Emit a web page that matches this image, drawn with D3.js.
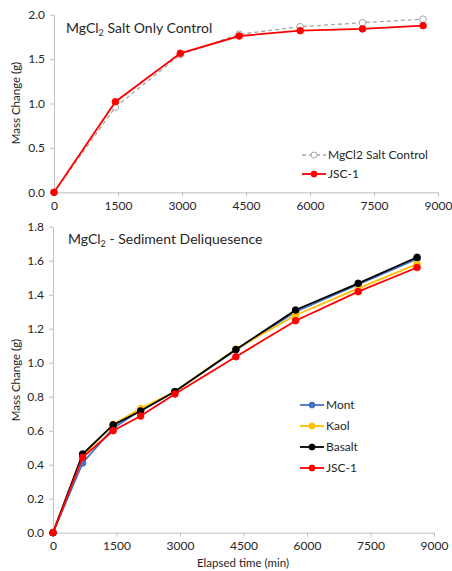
<!DOCTYPE html>
<html>
<head>
<meta charset="utf-8">
<script src="https://cdn.jsdelivr.net/npm/d3@7"></script>
<style>
  body { margin: 0; background: #fff; }
  text { font-family: Lato, "Open Sans", sans-serif; fill: #262626; }
</style>
</head>
<body>
<script>
// top panel: salt only
const saltTime = [0, 1440, 2960, 4340, 5770, 7230, 8650];
const saltControl = [0, 0.96, 1.55, 1.78, 1.865, 1.91, 1.95];
const saltJsc = [0, 1.02, 1.565, 1.76, 1.82, 1.84, 1.876];

// bottom panel: sediment deliquescence
const sedTime = [0, 700, 1420, 2070, 2880, 4320, 5730, 7210, 8600];
const mont   = [0, 0.41, 0.615, 0.72, 0.83, 1.075, 1.30, 1.46, 1.61];
const kaol   = [0, 0.45, 0.637, 0.73, 0.83, 1.08, 1.279, 1.437, 1.58];
const basalt = [0, 0.463, 0.634, 0.716, 0.83, 1.077, 1.31, 1.467, 1.62];
const jsc    = [0, 0.443, 0.60, 0.686, 0.816, 1.035, 1.247, 1.418, 1.56];

const xTicks = [0, 1500, 3000, 4500, 6000, 7500, 9000];

const svg = d3.select("body").append("svg")
  .attr("width", 452).attr("height", 571);

function axes(g, x, y, yTicks, fmt) {
  const xa = g.append("g")
    .attr("transform", `translate(0,${y.range()[0]})`)
    .call(d3.axisBottom(x).tickValues(xTicks).tickFormat(d3.format("d"))
      .tickSize(4).tickSizeOuter(0).tickPadding(5));
  const ya = g.append("g")
    .attr("transform", `translate(${x.range()[0]},0)`)
    .call(d3.axisLeft(y).tickValues(yTicks).tickFormat(fmt).tickSize(4).tickSizeOuter(0).tickPadding(5));
  [xa, ya].forEach(a => {
    a.selectAll("path, line").attr("stroke", "#bfbfbf");
    a.selectAll("text").attr("font-size", 12).attr("fill", "#262626")
      .attr("font-family", "Lato, sans-serif");
  });
}

function series(g, x, y, t, vals, color, opts = {}) {
  const pts = t.map((d, i) => [d, vals[i]]);
  g.append("path").datum(pts)
    .attr("fill", "none").attr("stroke", color)
    .attr("stroke-width", opts.width || 1.8)
    .attr("stroke-dasharray", opts.dash || null)
    .attr("d", d3.line().x(d => x(d[0])).y(d => y(d[1])));
  g.selectAll(null).data(pts).enter().append("circle")
    .attr("cx", d => x(d[0])).attr("cy", d => y(d[1]))
    .attr("r", opts.r || 3.3)
    .attr("fill", opts.open ? "#fff" : color)
    .attr("stroke", color).attr("stroke-width", 1);
}

function legendItem(g, lx, ly, label, color, opts = {}) {
  g.append("line").attr("x1", lx).attr("x2", lx + 24).attr("y1", ly).attr("y2", ly)
    .attr("stroke", color).attr("stroke-width", opts.width || 1.8)
    .attr("stroke-dasharray", opts.dash || null);
  g.append("circle").attr("cx", lx + 12).attr("cy", ly).attr("r", opts.r || 3)
    .attr("fill", opts.open ? "#fff" : color).attr("stroke", color);
  g.append("text").attr("x", lx + 26).attr("y", ly).attr("dy", "0.35em")
    .attr("font-size", 12).text(label);
}

// ---- top chart
const gTop = svg.append("g");
const x1 = d3.scaleLinear().domain([0, 9000]).range([54, 438]);
const y1 = d3.scaleLinear().domain([0, 2]).range([192.3, 14.7]);
axes(gTop, x1, y1, [0, 0.5, 1, 1.5, 2], d3.format(".1f"));
series(gTop, x1, y1, saltTime, saltControl, "#a6a6a6", { dash: "4,3", open: true, width: 1.3 });
series(gTop, x1, y1, saltTime, saltJsc, "#ff0000");

const t1 = gTop.append("text").attr("x", 66).attr("y", 33).attr("font-size", 14);
t1.append("tspan").text("MgCl");
t1.append("tspan").attr("font-size", 9).attr("dy", 3).text("2");
t1.append("tspan").attr("dy", -3).text(" Salt Only Control");

gTop.append("text").attr("transform", "translate(20,103) rotate(-90)")
  .attr("text-anchor", "middle").attr("font-size", 11.5).text("Mass Change (g)");

legendItem(gTop, 302, 155, "MgCl2 Salt Control", "#a6a6a6", { dash: "4,3", open: true, width: 1.3 });
legendItem(gTop, 302, 174, "JSC-1", "#ff0000");

// ---- bottom chart
const gBot = svg.append("g");
const x2 = d3.scaleLinear().domain([0, 9000]).range([53, 434]);
const y2 = d3.scaleLinear().domain([0, 1.8]).range([532.7, 226.7]);
axes(gBot, x2, y2, [0, 0.2, 0.4, 0.6, 0.8, 1.0, 1.2, 1.4, 1.6, 1.8], d3.format(".1f"));
series(gBot, x2, y2, sedTime, mont, "#4472c4");
series(gBot, x2, y2, sedTime, kaol, "#ffc000");
series(gBot, x2, y2, sedTime, basalt, "#000000");
series(gBot, x2, y2, sedTime, jsc, "#ff0000");

const t2 = gBot.append("text").attr("x", 68).attr("y", 244).attr("font-size", 14);
t2.append("tspan").text("MgCl");
t2.append("tspan").attr("font-size", 9).attr("dy", 3).text("2");
t2.append("tspan").attr("dy", -3).text(" - Sediment Deliquesence");

gBot.append("text").attr("transform", "translate(20,380) rotate(-90)")
  .attr("text-anchor", "middle").attr("font-size", 11.5).text("Mass Change (g)");
gBot.append("text").attr("x", 243).attr("y", 567)
  .attr("text-anchor", "middle").attr("font-size", 11.5).text("Elapsed time  (min)");

legendItem(gBot, 300, 405, "Mont", "#4472c4");
legendItem(gBot, 300, 426, "Kaol", "#ffc000");
legendItem(gBot, 300, 447, "Basalt", "#000000");
legendItem(gBot, 300, 468, "JSC-1", "#ff0000");
</script>
</body>
</html>
